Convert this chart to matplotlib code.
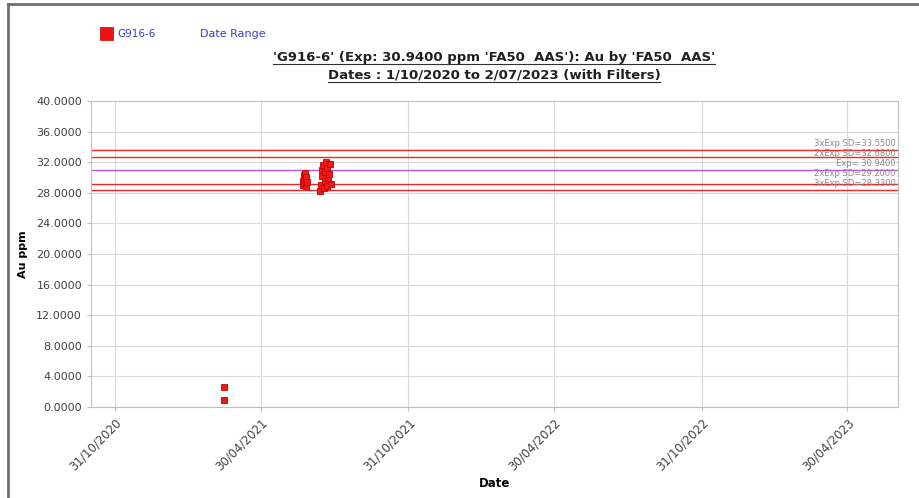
import datetime as dt
import matplotlib
matplotlib.use("Agg")
import matplotlib.pyplot as plt
import matplotlib.dates as mdates
from matplotlib.lines import Line2D
from matplotlib.patches import Rectangle

# sample results (date, Au ppm)
pointDates = ["2021-03-15", "2021-03-15",
              "2021-06-22", "2021-06-22", "2021-06-23", "2021-06-23", "2021-06-24",
              "2021-06-25", "2021-06-25", "2021-06-26", "2021-06-27",
              "2021-07-13", "2021-07-14", "2021-07-15", "2021-07-16", "2021-07-17",
              "2021-07-18", "2021-07-19", "2021-07-19", "2021-07-20", "2021-07-21",
              "2021-07-22", "2021-07-23", "2021-07-24", "2021-07-25", "2021-07-26"]
pointValues = [2.6, 0.9,
               29.0, 29.6, 30.3, 29.3, 30.6,
               29.8, 28.9, 30.1, 29.4,
               28.3, 29.0, 30.2, 31.0, 31.6,
               28.6, 29.6, 30.7, 32.0, 31.3,
               28.9, 29.9, 30.4, 31.8, 29.2]

expValue = 30.94
sdValue = 0.87
limitNames = ["3xExp SD", "2xExp SD", "Exp", "2xExp SD", "3xExp SD"]
limitMult = [3, 2, 0, -2, -3]
limitColors = ["#e8282b", "#e8282b", "#b858d8", "#e8282b", "#e8282b"]
#label offsets from each line, in points (labels crowd together like the original)
labelOffsets = [4.7, 2.4, 4.7, 7.2, 4.8]

xStart = "2020-10-01"
xEnd = "2023-07-02"
xTickDates = ["2020-10-31", "2021-04-30", "2021-10-31", "2022-04-30", "2022-10-31", "2023-04-30"]
yTicks = [0, 4, 8, 12, 16, 20, 24, 28, 32, 36, 40]

titleLines = ["'G916-6' (Exp: 30.9400 ppm 'FA50  AAS'): Au by 'FA50  AAS'",
              "Dates : 1/10/2020 to 2/07/2023 (with Filters)"]


def toDate(s):
    return dt.datetime.strptime(s, "%Y-%m-%d")


W, H = 920, 498
fig = plt.figure(figsize=(W / 100, H / 100), dpi=100)
fig.patch.set_facecolor("white")

ax = fig.add_axes([91 / W, 1 - 407 / H, (898 - 91) / W, (407 - 101) / H])
ax.set_xlim(toDate(xStart), toDate(xEnd))
ax.set_ylim(0, 40)

#grid
ax.set_xticks([toDate(d) for d in xTickDates])
ax.set_yticks(yTicks)
ax.grid(True, color="#d8d8d8", linewidth=0.8)
ax.set_axisbelow(True)
for sp in ax.spines.values():
    sp.set_color("#c0c0c0")
    sp.set_linewidth(0.8)
ax.xaxis.set_major_formatter(mdates.DateFormatter("%d/%m/%Y"))
ax.yaxis.set_major_formatter(matplotlib.ticker.FormatStrFormatter("%.4f"))
ax.tick_params(axis="x", colors="#c0c0c0", labelcolor="#404040", labelsize=8.5, length=3)
ax.tick_params(axis="y", colors="#c0c0c0", labelcolor="#404040", labelsize=8, length=3)
plt.setp(ax.get_xticklabels(), rotation=45, ha="right", rotation_mode="anchor")

#control lines
xRight = toDate(xEnd) - dt.timedelta(days=3)
for name, m, c, off in zip(limitNames, limitMult, limitColors, labelOffsets):
    val = expValue + m * sdValue
    ax.axhline(val, color=c, linewidth=1.0, zorder=2)
    if m == 0:
        lbl = "%s= %.4f" % (name, val)
    else:
        lbl = "%s=%.4f" % (name, val)
    ax.annotate(lbl, (xRight, val), xytext=(0, off), textcoords="offset points",
                ha="right", va="center", fontsize=6, color="#8a8a8a", zorder=3)

#points
ax.plot([toDate(d) for d in pointDates], pointValues, "s", markersize=3.8,
        markerfacecolor="#f01818", markeredgecolor="#c00000", markeredgewidth=0.6, zorder=4)

ax.set_ylabel("Au ppm", fontsize=8, fontweight="bold")
ax.yaxis.set_label_coords(-0.078, 0.5)
ax.set_xlabel("Date", fontsize=8.5, fontweight="bold")
ax.xaxis.set_label_coords(0.5, -0.229)

#legend row
fig.patches.append(Rectangle((100 / W, 1 - 40 / H), 13 / W, 13 / H, transform=fig.transFigure,
                             facecolor="#ee1111", edgecolor="#cc0000", linewidth=0.5))
fig.text(117 / W, 1 - 34 / H, "G916-6", fontsize=7.5, color="#3a3ad0", va="center")
fig.text(200 / W, 1 - 34 / H, "Date Range", fontsize=8, color="#3a3ad0", va="center")

#title with underline
titleTexts = []
for i, t in enumerate(titleLines):
    tt = fig.text(494 / W, 1 - (57 + 18 * i) / H, t, fontsize=9.5, fontweight="bold",
                  color="#202020", ha="center", va="center")
    titleTexts.append(tt)
fig.canvas.draw()
rend = fig.canvas.get_renderer()
for tt in titleTexts:
    bb = tt.get_window_extent(rend)
    yy = (bb.y0 - 1) / H
    fig.lines.append(Line2D([bb.x0 / W, bb.x1 / W], [yy, yy], transform=fig.transFigure,
                            color="#303030", linewidth=0.8))

#frame on left and top
fig.lines.append(Line2D([8 / W, 8 / W], [0, 1 - 4 / H], transform=fig.transFigure, color="#707070", linewidth=2))
fig.lines.append(Line2D([8 / W, 1], [1 - 4 / H, 1 - 4 / H], transform=fig.transFigure, color="#707070", linewidth=2))

fig.savefig("out.png", dpi=100)
